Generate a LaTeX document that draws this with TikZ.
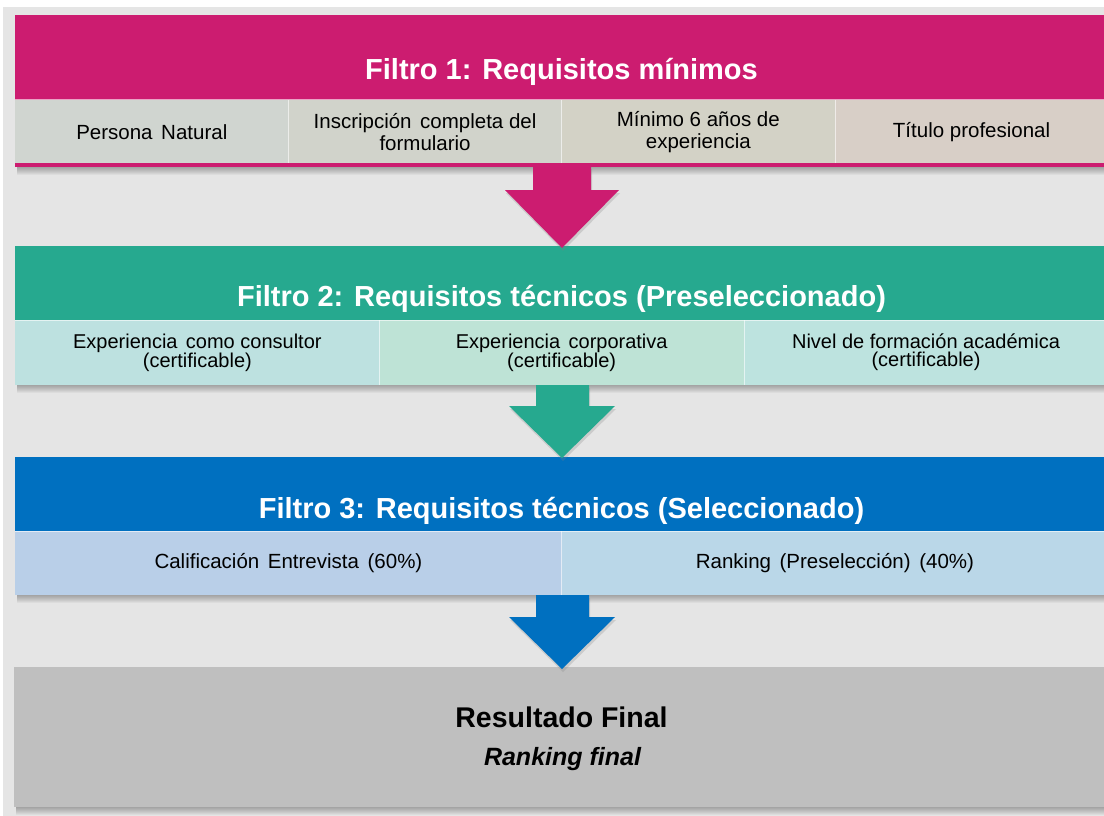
\documentclass[tikz,border=0pt]{standalone}
\usepackage{fontspec}
\setmainfont{Liberation Sans}
\usetikzlibrary{shadows}
\definecolor{bgc}{HTML}{E5E5E5}
\definecolor{pinkc}{HTML}{CC1C70}
\definecolor{tealc}{HTML}{26A98F}
\definecolor{bluec}{HTML}{0070C0}
\definecolor{grayc}{HTML}{BFBFBF}
\definecolor{c11}{HTML}{D0D5D0}
\definecolor{c12}{HTML}{D1D3CB}
\definecolor{c13}{HTML}{D3D2C6}
\definecolor{c14}{HTML}{D8CFC7}
\definecolor{c21}{HTML}{BDE1E0}
\definecolor{c22}{HTML}{BEE3D6}
\definecolor{c23}{HTML}{BDE3DF}
\definecolor{c31}{HTML}{B9CFE8}
\definecolor{c32}{HTML}{BAD7E8}
\newcommand{\ws}{\hspace{0.42em}}
\newcommand{\boxshade}[3]{%
  \foreach \k in {1,...,8} {\fill[black,opacity=0.04] (#1+2,#3) rectangle (#2,#3+\k);}}
\begin{document}
\begin{tikzpicture}[x=1pt,y=-1pt,
  titletext/.style={anchor=base, text=white, inner sep=0, font=\fontsize{29}{32}\selectfont\bfseries},
  cellA/.style={anchor=north west, inner sep=0, minimum width=273.25pt, minimum height=63pt, align=center, font=\fontsize{20.5}{22}\selectfont},
  cellB/.style={anchor=north west, inner sep=0, minimum width=364.33pt, minimum height=65pt, align=center, font=\fontsize{20}{18}\selectfont},
  cellC/.style={anchor=north west, inner sep=0, minimum width=546.5pt, minimum height=64pt, align=center, font=\fontsize{20.5}{22}\selectfont},
  divider/.style={draw=white, draw opacity=0.6, line width=1pt},
  blockarrow/.style={drop shadow={shadow xshift=1pt, shadow yshift=-3pt, opacity=0.25}},
]
\useasboundingbox (0,0) rectangle (1104,816);
\clip (0,0) rectangle (1104,816);
\fill[white] (0,0) rectangle (1104,816);
\fill[bgc] (3,7) rectangle (1104,816);

% ---------- Filtro 1 ----------
\boxshade{15}{1108}{167}
\fill[pinkc] (15,15) rectangle (1108,167);
\node[titletext] (t1) at (561.5,80) {Filtro 1: Requisitos mínimos};
\node[cellA, fill=c11] (c11) at (15,100) {Persona\ws Natural};
\node[cellA, fill=c12] (c12) at (288.25,100) {Inscripción\ws completa del\\formulario};
\node[cellA, fill=c13] (c13) at (561.5,100) {Mínimo 6 años de\\experiencia};
\node[cellA, fill=c14] (c14) at (834.75,100) {Título profesional};
\draw[divider] (c11.north west) -- (c14.north east);
\draw[divider] (c11.north east) -- (c11.south east);
\draw[divider] (c12.north east) -- (c12.south east);
\draw[divider] (c13.north east) -- (c13.south east);

% ---------- Filtro 2 ----------
\boxshade{15}{1108}{385}
\fill[tealc] (15,246) rectangle (1108,320);
\node[titletext] (t2) at (561.5,306) {Filtro 2: Requisitos técnicos (Preseleccionado)};
\node[cellB, fill=c21] (c21) at (15,320) {Experiencia\ws como consultor\\(certificable)};
\node[cellB, fill=c22] (c22) at (379.33,320) {Experiencia\ws corporativa\\(certificable)};
\node[cellB, fill=c23] (c23) at (743.67,320) {Nivel de formación académica\\(certificable)};
\draw[divider] (c21.north west) -- (c23.north east);
\draw[divider] (c21.north east) -- (c21.south east);
\draw[divider] (c22.north east) -- (c22.south east);

% ---------- Filtro 3 ----------
\boxshade{15}{1108}{595}
\fill[bluec] (15,457) rectangle (1108,531);
\node[titletext] (t3) at (561.5,518) {Filtro 3: Requisitos técnicos (Seleccionado)};
\node[cellC, fill=c31] (c31) at (15,531) {Calificación\ws Entrevista\ws (60\%)};
\node[cellC, fill=c32] (c32) at (561.5,531) {Ranking\ws (Preselección)\ws (40\%)};
\draw[divider] (c31.north west) -- (c32.north east);
\draw[divider] (c31.north east) -- (c31.south east);

% ---------- Resultado ----------
\boxshade{14}{1108}{807}
\fill[grayc] (14,667) rectangle (1108,807);
\node[anchor=base, inner sep=0, font=\fontsize{28.5}{32}\selectfont\bfseries] (r1) at (561.5,727) {Resultado Final};
\node[anchor=base, inner sep=0, font=\fontsize{25}{30}\selectfont\bfseries\itshape] (r2) at (562.5,765) {Ranking final};

% ---------- Arrows ----------
\fill[pinkc, blockarrow] (533,166) -- (591,166) -- (591,190) -- (619,190) -- (562,248) -- (505,190) -- (533,190) -- cycle;
\fill[tealc, blockarrow] (536,385) -- (589,385) -- (589,406) -- (615,406) -- (562,458) -- (509,406) -- (536,406) -- cycle;
\fill[bluec, blockarrow] (536,595) -- (589,595) -- (589,617) -- (615,617) -- (562,669) -- (509,617) -- (536,617) -- cycle;
\end{tikzpicture}
\end{document}
